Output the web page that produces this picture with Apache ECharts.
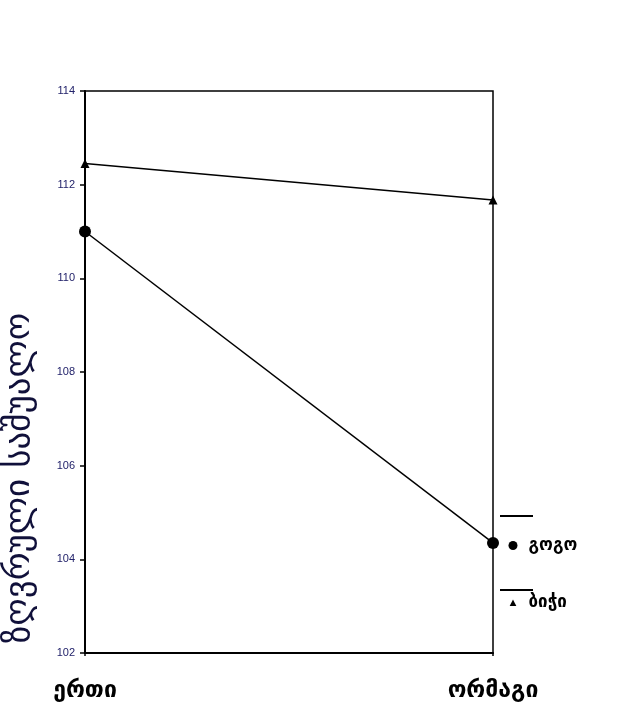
<!DOCTYPE html>
<html>
<head>
<meta charset="utf-8">
<script src="https://cdn.jsdelivr.net/npm/echarts@6/dist/echarts.min.js"></script>
<style>
  html, body { margin: 0; padding: 0; background: #fff; }
  #chart { width: 617px; height: 706px; }
</style>
</head>
<body>
<div id="chart"></div>
<script>
// Categories on the x axis
const categories = ['ერთი', 'ორმაგი'];
// Marginal means per group
const girls = [111.0, 104.35];
const boys = [112.45, 111.67];
// Series names
const girlsName = 'გოგო';
const boysName = 'ბიჭი';
// Y axis range and step
const yMin = 102;
const yMax = 114;
const yStep = 2;
const yTitle = 'ზღვრული საშუალო';

// Legend icons in a 10x10 box (zero-length corner segments fix the box size)
const boxCorners = 'M0 0L0 0 M10 10L10 10 ';
const circleIcon = 'path://' + boxCorners + 'M0.5 5A4.5 4.5 0 1 0 9.5 5A4.5 4.5 0 1 0 0.5 5Z';
const triangleIcon = 'path://' + boxCorners + 'M5 2L8.3 8.5H1.7Z';

const chart = echarts.init(document.getElementById('chart'));
chart.setOption({
  animation: false,
  backgroundColor: '#fff',
  grid: {
    left: 85, right: 124, top: 91, bottom: 53,
    show: true, borderColor: '#000', borderWidth: 1.5,
    containLabel: false,
    outerBoundsMode: 'none'
  },
  legend: {
    orient: 'vertical',
    left: 508,
    top: 537,
    padding: 0,
    itemWidth: 21,
    itemHeight: 10,
    itemGap: 40,
    symbolKeepAspect: true,
    data: [
      { name: girlsName, icon: circleIcon },
      { name: boysName, icon: triangleIcon }
    ],
    textStyle: {
      fontFamily: 'DejaVu Sans',
      fontWeight: 'bold',
      fontSize: 17,
      color: '#000'
    }
  },
  // Short rules drawn above each legend entry
  graphic: [
    { type: 'line', shape: { x1: 500, y1: 516, x2: 533, y2: 516 }, style: { stroke: '#000', lineWidth: 2 } },
    { type: 'line', shape: { x1: 500, y1: 590, x2: 533, y2: 590 }, style: { stroke: '#000', lineWidth: 2 } }
  ],
  xAxis: {
    type: 'category',
    data: categories,
    boundaryGap: false,
    axisLine: { lineStyle: { color: '#000', width: 2 } },
    axisTick: { show: true, length: 3, lineStyle: { color: '#000', width: 1.5 } },
    axisLabel: {
      margin: 27,
      fontFamily: 'DejaVu Sans',
      fontWeight: 'bold',
      fontSize: 23,
      color: '#000'
    },
    splitLine: { show: false }
  },
  yAxis: {
    type: 'value',
    min: yMin,
    max: yMax,
    interval: yStep,
    name: yTitle,
    nameLocation: 'middle',
    nameRotate: 90,
    nameGap: 48,
    nameTextStyle: {
      fontFamily: 'DejaVu Sans',
      fontSize: 35,
      color: '#10103a',
      padding: [0, 212, 0, 0]
    },
    axisLine: { show: true, lineStyle: { color: '#000', width: 2 } },
    axisTick: { show: true, length: 5, lineStyle: { color: '#000', width: 1.5 } },
    axisLabel: {
      margin: 10,
      fontFamily: 'Liberation Sans',
      fontSize: 11,
      color: '#22226a'
    },
    splitLine: { show: false }
  },
  series: [
    {
      name: girlsName,
      type: 'line',
      data: girls,
      symbol: 'circle',
      symbolSize: 12,
      itemStyle: { color: '#000' },
      lineStyle: { color: '#000', width: 1.5 }
    },
    {
      name: boysName,
      type: 'line',
      data: boys,
      symbol: 'triangle',
      symbolSize: 9,
      itemStyle: { color: '#000' },
      lineStyle: { color: '#000', width: 1.5 }
    }
  ]
});
</script>
</body>
</html>
